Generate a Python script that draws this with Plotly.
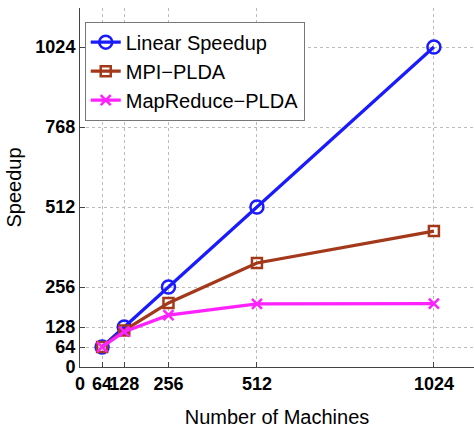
import plotly.graph_objects as go

machines = [64, 128, 256, 512, 1024]
linear_speedup = [64, 128, 256, 512, 1024]
mpi_plda = [64, 117, 205, 333, 435]
mapreduce_plda = [64, 113, 166, 202, 203]
tick_vals = [0, 64, 128, 256, 512, 1024]
ytick_vals = [0, 64, 128, 256, 512, 768, 1024]

fig = go.Figure()
fig.add_trace(go.Scatter(x=machines, y=linear_speedup, name="Linear Speedup",
                         mode="lines+markers",
                         line=dict(color="#1a1aff", width=3.2),
                         marker=dict(symbol="circle-open", size=13, line=dict(width=2.5, color="#1a1aff"))))
fig.add_trace(go.Scatter(x=machines, y=mpi_plda, name="MPI\u2212PLDA",
                         mode="lines+markers",
                         line=dict(color="#a3381a", width=3.2),
                         marker=dict(symbol="square-open", size=10, line=dict(width=2.5, color="#a3381a"))))
fig.add_trace(go.Scatter(x=machines, y=mapreduce_plda, name="MapReduce\u2212PLDA",
                         mode="lines+markers",
                         line=dict(color="#ff22ff", width=3.2),
                         marker=dict(symbol="x-thin", size=10, line=dict(width=2.5, color="#ff22ff"))))

axis_common = dict(
    showline=True, linecolor="#444", linewidth=1,
    ticks="inside", ticklen=5, tickcolor="#444",
    showgrid=True, gridcolor="#bbbbbb", griddash="dot", gridwidth=1,
    zeroline=False, automargin=False,
    tickfont=dict(family="Liberation Sans, Arial", size=18, color="black", weight="bold"),
)

fig.update_xaxes(range=[0, 1140], tickvals=tick_vals, ticktext=[str(v) for v in tick_vals],
                 tickangle=0,
                 title=dict(text="Number of Machines", font=dict(family="Liberation Sans, Arial", size=20, color="black"), standoff=18),
                 **axis_common)
fig.update_yaxes(range=[0, 1149], tickvals=ytick_vals, ticktext=[str(v) for v in ytick_vals],
                 title=dict(text="Speedup", font=dict(family="Liberation Sans, Arial", size=20, color="black"), standoff=8),
                 **axis_common)

fig.update_layout(
    width=474, height=428,
    margin=dict(l=80, r=0, t=8, b=61),
    plot_bgcolor="white", paper_bgcolor="white",
    legend=dict(x=0.012, y=0.962, xanchor="left", yanchor="top",
                bordercolor="#777", borderwidth=1, bgcolor="white",
                font=dict(family="Liberation Sans, Arial", size=20, color="black"),
                itemwidth=30, tracegroupgap=0),
)

fig.write_html("out.html")
